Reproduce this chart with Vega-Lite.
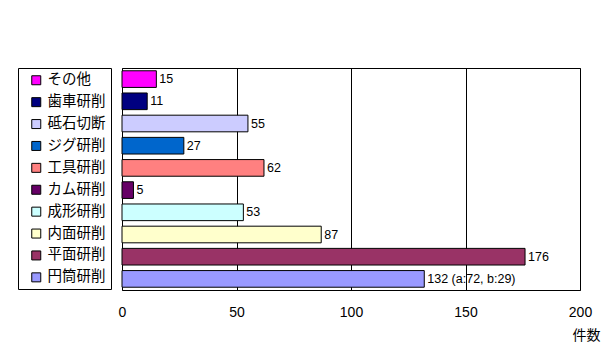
{
  "$schema": "https://vega.github.io/schema/vega-lite/v6.json",
  "autosize": {"type": "none"},
  "width": 458,
  "height": 222,
  "padding": {"left": 122, "top": 68, "right": 26, "bottom": 67},
  "background": "white",
  "config": {
    "view": {"stroke": "black", "strokeWidth": 1},
    "font": "Noto Sans CJK JP"
  },
  "data": {
    "values": [
      {"cat": "その他", "count": 15, "label": "15"},
      {"cat": "歯車研削", "count": 11, "label": "11"},
      {"cat": "砥石切断", "count": 55, "label": "55"},
      {"cat": "ジグ研削", "count": 27, "label": "27"},
      {"cat": "工具研削", "count": 62, "label": "62"},
      {"cat": "カム研削", "count": 5, "label": "5"},
      {"cat": "成形研削", "count": 53, "label": "53"},
      {"cat": "内面研削", "count": 87, "label": "87"},
      {"cat": "平面研削", "count": 176, "label": "176"},
      {"cat": "円筒研削", "count": 132, "label": "132  (a:72, b:29)"}
    ]
  },
  "encoding": {
    "y": {
      "field": "cat", "type": "nominal",
      "sort": ["その他", "歯車研削", "砥石切断", "ジグ研削", "工具研削", "カム研削", "成形研削", "内面研削", "平面研削", "円筒研削"],
      "scale": {"paddingInner": 0.25, "paddingOuter": 0.125},
      "axis": null
    },
    "x": {
      "field": "count", "type": "quantitative",
      "scale": {"domain": [0, 200], "nice": false},
      "axis": {
        "values": [0, 50, 100, 150, 200],
        "grid": true, "gridColor": "black", "gridOpacity": 1, "gridWidth": 1,
        "domain": false, "ticks": false, "labelFlush": false,
        "labelPadding": 15, "labelFontSize": 14, "labelColor": "black",
        "labelFont": "Liberation Sans",
        "title": "件数", "titleFontSize": 14, "titleFontWeight": "normal", "titleColor": "black",
        "titleAnchor": "end", "titleAlign": "right", "titleX": 478, "titleY": 45,
        "titleBaseline": "middle"
      }
    }
  },
  "layer": [
    {
      "mark": {"type": "bar", "stroke": "black", "strokeWidth": 1, "opacity": 1},
      "encoding": {
        "color": {
          "field": "cat", "type": "nominal",
          "scale": {
            "domain": ["その他", "歯車研削", "砥石切断", "ジグ研削", "工具研削", "カム研削", "成形研削", "内面研削", "平面研削", "円筒研削"],
            "range": ["#FF00FF", "#000080", "#CCCCFF", "#0066CC", "#FF8080", "#660066", "#CCFFFF", "#FFFFCC", "#993366", "#9999FF"]
          },
          "legend": {
            "orient": "left", "offset": 11, "title": null,
            "symbolType": "square", "symbolSize": 81, "symbolStrokeColor": "black", "symbolStrokeWidth": 1,
            "symbolOpacity": 1, "symbolOffset": 6,
            "labelFontSize": 14.5, "labelColor": "black", "labelOffset": 4, "labelLimit": 200,
            "rowPadding": 6.9, "padding": 5,
            "strokeColor": "black", "fillColor": "white"
          }
        }
      }
    },
    {
      "mark": {"type": "text", "align": "left", "baseline": "middle", "dx": 3, "fontSize": 12.5, "font": "Liberation Sans", "color": "black"},
      "encoding": {"text": {"field": "label"}}
    }
  ]
}
